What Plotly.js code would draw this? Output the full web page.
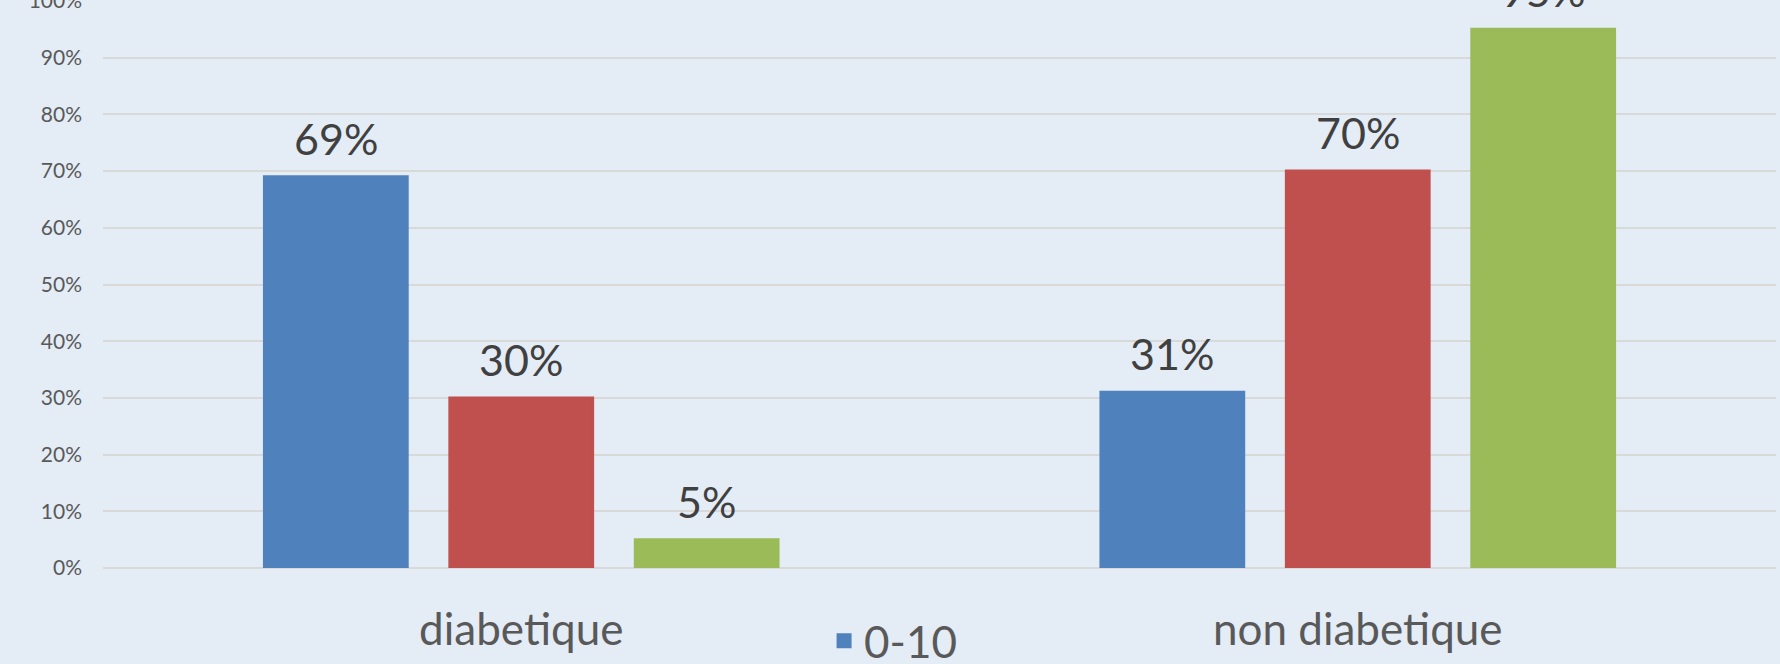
<!DOCTYPE html>
<html>
<head>
<meta charset="utf-8">
<script src="https://cdn.plot.ly/plotly-3.0.1.min.js"></script>
<style>html,body{margin:0;padding:0;background:#E4ECF6;}</style>
</head>
<body>
<div id="chart" style="width:1780px;height:664px;"></div>
<script>
const categories = ['diabetique', 'non diabetique'];
const seriesNames = ['0-10', '10-20', '>20'];
const series1 = [0.69, 0.31];
const series2 = [0.30, 0.70];
const series3 = [0.05, 0.95];
const colors = ['#4F81BD', '#C0504D', '#9BBB59'];
const yTickVals = [0, 0.1, 0.2, 0.3, 0.4, 0.5, 0.6, 0.7, 0.8, 0.9, 1.0];
const yTickText = ['0%', '10%', '20%', '30%', '40%', '50%', '60%', '70%', '80%', '90%', '100%'];

const allSeries = [series1, series2, series3];
const bargap = 0.335;
const bargroupgap = 0.23;
const font = 'Lato, "Noto Sans", sans-serif';

const traces = allSeries.map((vals, i) => ({
  type: 'bar',
  name: seriesNames[i],
  x: categories,
  y: vals,
  marker: {color: colors[i], line: {color: colors[i], width: 3}},
  showlegend: i === 0,
  hoverinfo: 'skip'
}));

const n = allSeries.length;
const slot = (1 - bargap) / n;
const annotations = [];
allSeries.forEach((vals, i) => {
  vals.forEach((v, j) => {
    annotations.push({
      x: j - (1 - bargap) / 2 + (i + 0.5) * slot,
      y: v,
      xref: 'x', yref: 'y',
      text: Math.round(v * 100) + '%',
      showarrow: false,
      yanchor: 'bottom',
      yshift: 11,
      font: {family: font, size: 43, color: '#404040'}
    });
  });
});

const layout = {
  width: 1780, height: 664,
  margin: {l: 103, r: 4, t: 1, b: 96, autoexpand: false},
  paper_bgcolor: '#E4ECF6',
  plot_bgcolor: '#E4ECF6',
  barmode: 'group',
  bargap: bargap,
  bargroupgap: bargroupgap,
  showlegend: true,
  legend: {
    orientation: 'v',
    x: 0.431, xanchor: 'left',
    y: -0.129, yanchor: 'middle',
    font: {family: font, size: 44, color: '#595959'},
    bgcolor: 'rgba(0,0,0,0)'
  },
  xaxis: {
    type: 'category',
    showgrid: false,
    showline: false,
    zeroline: false,
    ticks: '',
    ticklabelstandoff: 32,
    tickfont: {family: font, size: 44, color: '#595959'}
  },
  yaxis: {
    range: [0, 1],
    tickvals: yTickVals,
    ticktext: yTickText,
    ticklabeloverflow: 'allow',
    showgrid: true,
    gridcolor: '#D9D9D9',
    gridwidth: 2,
    zeroline: true,
    zerolinecolor: '#D9D9D9',
    zerolinewidth: 2,
    showline: false,
    ticks: '',
    ticklabelstandoff: 20,
    tickfont: {family: font, size: 21, color: '#595959'}
  },
  annotations: annotations,
  font: {family: font}
};

Plotly.newPlot('chart', traces, layout, {displayModeBar: false, staticPlot: true});
</script>
</body>
</html>
